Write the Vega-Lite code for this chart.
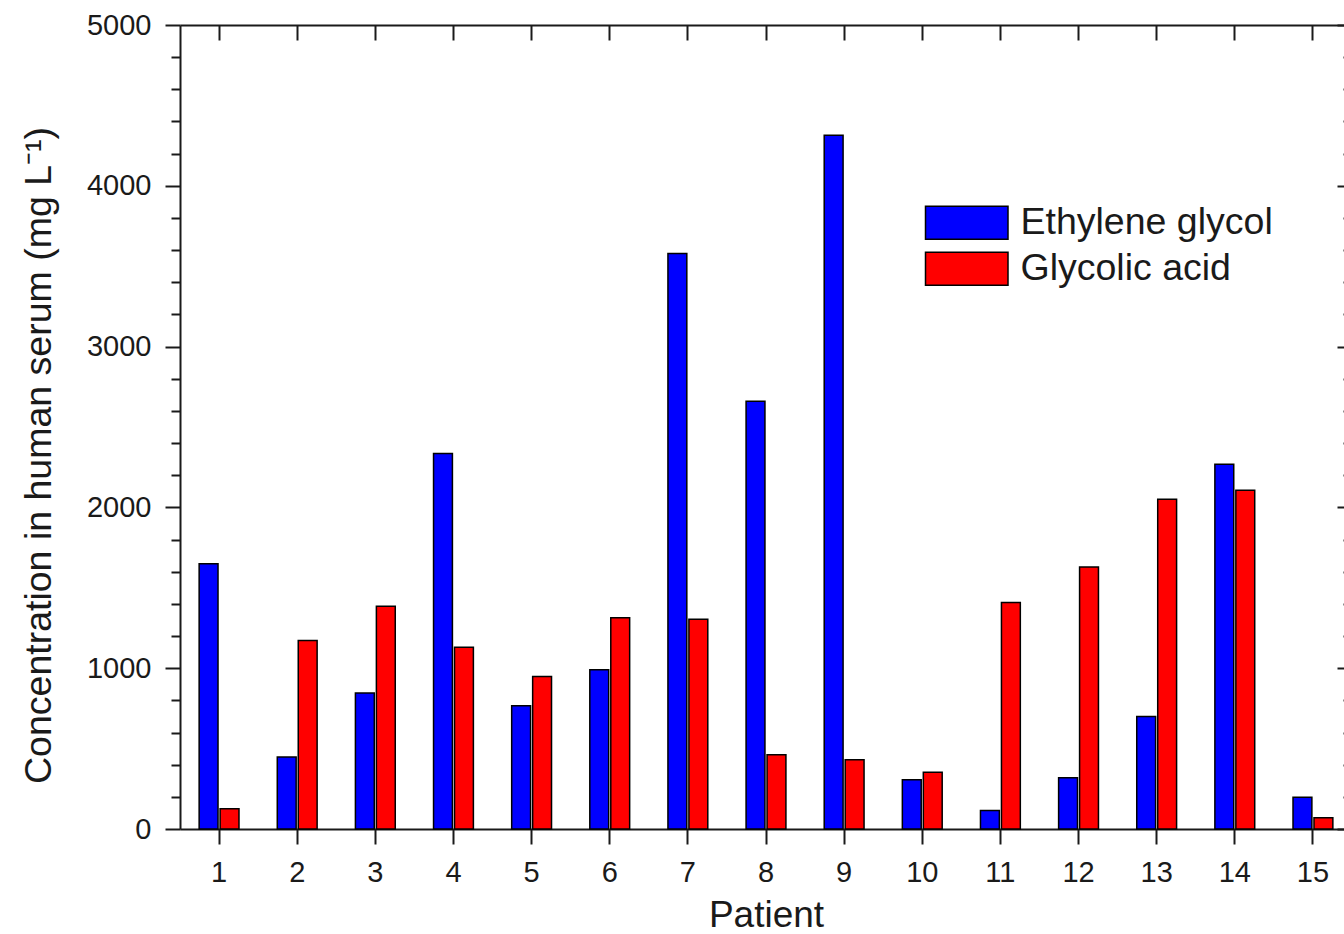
{
  "$schema": "https://vega.github.io/schema/vega-lite/v6.json",
  "width": 1164,
  "height": 804,
  "autosize": {"type": "none"},
  "padding": {"left": 180, "top": 25, "right": 0, "bottom": 105},
  "background": "white",
  "config": {
    "view": {"stroke": null},
    "font": "Liberation Sans",
    "axis": {
      "grid": false,
      "domainColor": "#1a1a1a",
      "tickColor": "#1a1a1a",
      "domainWidth": 2,
      "tickWidth": 2,
      "labelColor": "#1a1a1a",
      "titleColor": "#1a1a1a",
      "labelFont": "Liberation Sans",
      "titleFont": "Liberation Sans",
      "labelFontSize": 29,
      "titleFontWeight": "normal"
    }
  },
  "data": {
    "values": [
      {"Patient": 1, "Compound": "Ethylene glycol", "Concentration": 1650},
      {"Patient": 1, "Compound": "Glycolic acid", "Concentration": 126},
      {"Patient": 2, "Compound": "Ethylene glycol", "Concentration": 447},
      {"Patient": 2, "Compound": "Glycolic acid", "Concentration": 1173},
      {"Patient": 3, "Compound": "Ethylene glycol", "Concentration": 845},
      {"Patient": 3, "Compound": "Glycolic acid", "Concentration": 1385},
      {"Patient": 4, "Compound": "Ethylene glycol", "Concentration": 2335},
      {"Patient": 4, "Compound": "Glycolic acid", "Concentration": 1131},
      {"Patient": 5, "Compound": "Ethylene glycol", "Concentration": 767},
      {"Patient": 5, "Compound": "Glycolic acid", "Concentration": 949},
      {"Patient": 6, "Compound": "Ethylene glycol", "Concentration": 991},
      {"Patient": 6, "Compound": "Glycolic acid", "Concentration": 1314},
      {"Patient": 7, "Compound": "Ethylene glycol", "Concentration": 3579},
      {"Patient": 7, "Compound": "Glycolic acid", "Concentration": 1304},
      {"Patient": 8, "Compound": "Ethylene glycol", "Concentration": 2660},
      {"Patient": 8, "Compound": "Glycolic acid", "Concentration": 462},
      {"Patient": 9, "Compound": "Ethylene glycol", "Concentration": 4315},
      {"Patient": 9, "Compound": "Glycolic acid", "Concentration": 431},
      {"Patient": 10, "Compound": "Ethylene glycol", "Concentration": 306},
      {"Patient": 10, "Compound": "Glycolic acid", "Concentration": 353},
      {"Patient": 11, "Compound": "Ethylene glycol", "Concentration": 115},
      {"Patient": 11, "Compound": "Glycolic acid", "Concentration": 1408},
      {"Patient": 12, "Compound": "Ethylene glycol", "Concentration": 319},
      {"Patient": 12, "Compound": "Glycolic acid", "Concentration": 1629},
      {"Patient": 13, "Compound": "Ethylene glycol", "Concentration": 700},
      {"Patient": 13, "Compound": "Glycolic acid", "Concentration": 2050},
      {"Patient": 14, "Compound": "Ethylene glycol", "Concentration": 2268},
      {"Patient": 14, "Compound": "Glycolic acid", "Concentration": 2106},
      {"Patient": 15, "Compound": "Ethylene glycol", "Concentration": 198},
      {"Patient": 15, "Compound": "Glycolic acid", "Concentration": 70}
    ]
  },
  "layer": [
    {
      "mark": {"type": "bar", "stroke": "black", "strokeWidth": 1.5},
      "encoding": {
        "x": {
          "field": "Patient", "type": "ordinal",
          "scale": {"range": [0, 1172], "paddingInner": 0.49, "paddingOuter": 0.245},
          "axis": {
            "orient": "bottom", "title": "Patient", "labelAngle": 0,
            "tickSize": 15, "labelPadding": 37, "labelBaseline": "alphabetic",
            "titleFontSize": 37, "titleX": 586, "titleY": 97,
            "titleBaseline": "alphabetic", "titleAlign": "center"
          }
        },
        "xOffset": {
          "field": "Compound", "type": "nominal",
          "sort": ["Ethylene glycol", "Glycolic acid"],
          "scale": {"paddingInner": 0.1, "paddingOuter": 0}
        },
        "y": {
          "field": "Concentration", "type": "quantitative",
          "scale": {"domain": [0, 5000], "nice": false},
          "axis": {
            "orient": "left", "values": [0, 1000, 2000, 3000, 4000, 5000], "format": "d",
            "tickSize": 15, "labelPadding": 14,
            "title": "Concentration in human serum (mg L⁻¹)",
            "titleFontSize": 37.5, "titleX": -130, "titleY": 430,
            "titleAngle": -90, "titleBaseline": "alphabetic", "titleAlign": "center"
          }
        },
        "color": {
          "field": "Compound", "type": "nominal",
          "scale": {"domain": ["Ethylene glycol", "Glycolic acid"], "range": ["#0000ff", "#ff0000"]},
          "legend": {
            "title": null, "orient": "none", "legendX": 768, "legendY": 179,
            "symbolType": "M-2.5,-1H2.5V1H-2.5Z", "symbolSize": 1089,
            "symbolStrokeColor": "black", "symbolStrokeWidth": 1.5, "symbolOpacity": 1,
            "labelFontSize": 37.5, "labelFont": "Liberation Sans", "labelColor": "#1a1a1a",
            "labelOffset": 35, "labelLimit": 0, "rowPadding": 6, "padding": 0
          }
        }
      }
    },
    {
      "mark": {"type": "bar", "opacity": 0},
      "encoding": {
        "x": {
          "field": "Patient", "type": "ordinal",
          "axis": {"orient": "top", "labels": false, "title": null, "tickSize": -15, "domain": true}
        },
        "y": {
          "field": "Concentration", "type": "quantitative",
          "axis": {
            "orient": "left", "labels": false, "title": null, "domain": false, "tickSize": 9,
            "values": [200, 400, 600, 800, 1200, 1400, 1600, 1800, 2200, 2400, 2600, 2800, 3200, 3400, 3600, 3800, 4200, 4400, 4600, 4800]
          }
        }
      }
    },
    {
      "mark": {"type": "bar", "opacity": 0},
      "encoding": {
        "y": {
          "field": "Concentration", "type": "quantitative",
          "axis": {
            "orient": "right", "labels": false, "title": null, "domain": true, "tickSize": -15, "offset": 8,
            "values": [0, 1000, 2000, 3000, 4000, 5000]
          }
        }
      }
    },
    {
      "mark": {"type": "bar", "opacity": 0},
      "encoding": {
        "y": {
          "field": "Concentration", "type": "quantitative",
          "axis": {
            "orient": "right", "labels": false, "title": null, "domain": false, "tickSize": -9, "offset": 8,
            "values": [200, 400, 600, 800, 1200, 1400, 1600, 1800, 2200, 2400, 2600, 2800, 3200, 3400, 3600, 3800, 4200, 4400, 4600, 4800]
          }
        }
      }
    }
  ],
  "resolve": {"axis": {"x": "independent", "y": "independent"}}
}
